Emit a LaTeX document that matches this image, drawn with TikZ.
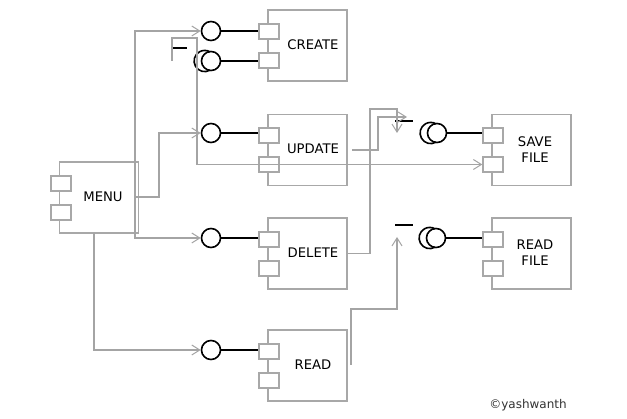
\documentclass[tikz,border=0pt]{standalone}
\usepackage{fontspec}
\setmainfont{DejaVu Sans}
\usetikzlibrary{arrows.meta}
\definecolor{boxgray}{HTML}{A8A8A8}
\definecolor{linegray}{HTML}{A4A4A4}
\begin{document}
\begin{tikzpicture}[x=1pt,y=-1pt,
  comp/.style={draw=boxgray, line width=1.4pt, fill=white, rectangle, inner sep=0pt, minimum width=79pt, minimum height=71pt},
  port/.style={draw=boxgray, line width=1.4pt, fill=white, rectangle, inner sep=0pt, minimum width=20pt, minimum height=15pt},
  ball/.style={draw=black, line width=1.6pt, fill=white, circle, inner sep=0pt, minimum size=19pt},
  lbl/.style={font=\fontsize{13.2}{16}\selectfont, text=black, align=center, inner sep=0pt},
  conn/.style={draw=linegray, line width=1.2pt},
  arr/.style={conn, -{Straight Barb[length=8pt,width=10pt,line width=1pt]}},
  wire/.style={draw=black, line width=1.8pt},
  sockarc/.style={draw=black, line width=1.6pt},
  dashmark/.style={draw=black, line width=1.8pt}
]
\useasboundingbox (0,0) rectangle (627,419);
\fill[white] (0,0) rectangle (627,419);

% components
\node[comp] (menu)   at (99,197.5) {};
\node[comp] (create) at (307.5,45.5) {};
\node[comp] (update) at (307.5,150) {};
\node[comp] (delete) at (307.5,253.5) {};
\node[comp] (read)   at (307.5,365.5) {};
\node[comp] (save)   at (531.5,150) {};
\node[comp] (rfile)  at (531.5,253.5) {};

% ports
\node[port] (menuP1)   at (61,183.5) {};
\node[port] (menuP2)   at (61,212.5) {};
\node[port] (createP1) at (269,31.5) {};
\node[port] (createP2) at (269,60.5) {};
\node[port] (updateP1) at (269,135.5) {};
\node[port] (updateP2) at (269,164.5) {};
\node[port] (deleteP1) at (269,239.5) {};
\node[port] (deleteP2) at (269,268.5) {};
\node[port] (readP1)   at (269,351.5) {};
\node[port] (readP2)   at (269,380.5) {};
\node[port] (saveP1)   at (493,135.5) {};
\node[port] (saveP2)   at (493,164.5) {};
\node[port] (rfileP1)  at (493,239.5) {};
\node[port] (rfileP2)  at (493,268.5) {};

% labels
\node[lbl] (menuL)   at (103,197) {MENU};
\node[lbl] (createL) at (313,45) {CREATE};
\node[lbl] (updateL) at (313,149) {UPDATE};
\node[lbl] (deleteL) at (313,253) {DELETE};
\node[lbl] (readL)   at (313,365) {READ};
\node[lbl] (saveL)   at (535,150) {SAVE\\FILE};
\node[lbl] (rfileL)  at (535,253) {READ\\FILE};

% interface circles
\node[ball] (createB) at (211,31) {};
\node[ball] (createS) at (211,61) {};
\node[ball] (updateB) at (211,133) {};
\node[ball] (deleteB) at (211,238) {};
\node[ball] (readB)   at (211,350) {};
\node[ball] (saveS)   at (437,133) {};
\node[ball] (rfileS)  at (436,238) {};

% lollipop wires
\draw[wire] (createB.east) -- (createP1.west |- createB.east);
\draw[wire] (createS.east) -- (createP2.west |- createS.east);
\draw[wire] (updateB.east) -- (updateP1.west |- updateB.east);
\draw[wire] (deleteB.east) -- (deleteP1.west |- deleteB.east);
\draw[wire] (readB.east) -- (readP1.west |- readB.east);
\draw[wire] (saveS.east) -- (saveP1.west |- saveS.east);
\draw[wire] (rfileS.east) -- (rfileP1.west |- rfileS.east);

% socket arcs
\draw[sockarc] ([shift={(-1,9.2)}]createS.center) arc[start angle=60, end angle=300, radius=10.6];
\draw[sockarc] ([shift={(-1,9.2)}]saveS.center) arc[start angle=60, end angle=300, radius=10.6];
\draw[sockarc] ([shift={(-1,9.2)}]rfileS.center) arc[start angle=60, end angle=300, radius=10.6];

% short marks
\coordinate (m1a) at (172,48); \coordinate (m1b) at (187,48);
\coordinate (m2a) at (395,121); \coordinate (m2b) at (413,121);
\coordinate (m3a) at (395,225); \coordinate (m3b) at (413,225);
\draw[dashmark] (m1a) -- (m1b);
\draw[dashmark] (m2a) -- (m2b);
\draw[dashmark] (m3a) -- (m3b);

% gray connectors
\coordinate (menuR) at (135,197);
\coordinate (menuU) at (159,197);
\coordinate (menuB) at (94,233);
\draw[arr] (menuR) |- (createB.west);
\draw[arr] (menuR) |- (deleteB.west);
\draw[arr] (menuR) -- (menuU) |- (updateB.west);
\draw[arr] (menuB) |- (readB.west);

\coordinate (cs) at (172,61);
\coordinate (csT) at (197,38);
\draw[arr] (cs) |- (csT) |- (saveP2.west);

\coordinate (uR) at (352,150);
\coordinate (uK) at (378,117);
\coordinate (uE) at (407,117);
\draw[arr] (uR) -| (uK) -- (uE);

\coordinate (dK) at (370,109);
\coordinate (dE) at (397,133);
\draw[arr] (delete.east) -| (dK) -| (dE);

\coordinate (rR) at (351,365);
\coordinate (rK) at (397,309);
\coordinate (rE) at (397,237);
\draw[arr] (rR) |- (rK) -- (rE);

% copyright
\node[font=\fontsize{12}{14}\selectfont, text=black!80, inner sep=0pt] (copy) at (528,405) {©yashwanth};
\end{tikzpicture}
\end{document}
